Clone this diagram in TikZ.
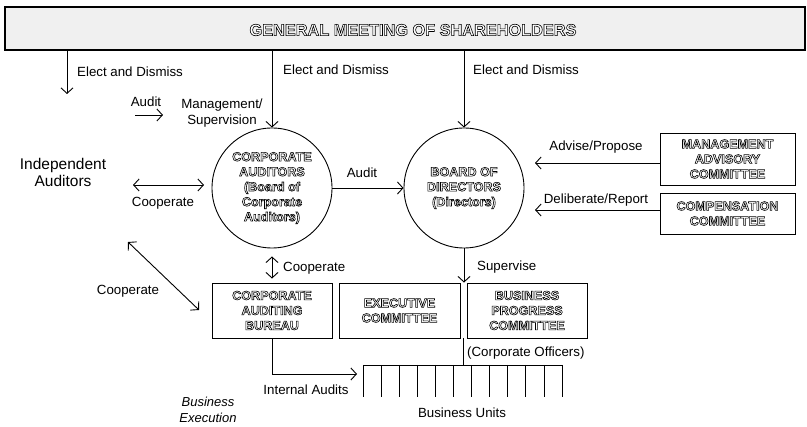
\documentclass[tikz,border=0pt]{standalone}
\usepackage{fontspec}
\setmainfont{Liberation Sans}
\usetikzlibrary{arrows.meta}
\tikzset{
  every picture/.style={x=1pt,y=-1pt},
  ln/.style={line width=0.9pt},
  arr/.style={ln,-{Straight Barb[length=5.5pt,width=12pt]}},
  darr/.style={ln,{Straight Barb[length=5.5pt,width=12pt]}-{Straight Barb[length=5.5pt,width=12pt]}},
  lbl/.style={font=\fontsize{13.3}{15}\selectfont, inner sep=0pt, align=center},
  holl/.style={font=\bfseries\fontsize{12.6}{15}\selectfont, align=center,
    execute at begin node={\color{white}\special{pdf:literal direct 2 Tr 0.6 w 0 0 0 RG}},
    execute at end node={\special{pdf:literal direct 0 Tr}}},
  cbox/.style={draw, ln, holl, inner sep=0pt},
  circ/.style={draw, ln, circle, holl, minimum size=120pt, inner sep=0pt},
}
\begin{document}
\begin{tikzpicture}
\useasboundingbox (0,0) rectangle (807,427);
% banner
\node[draw, line width=1.2pt, fill=black!6, minimum width=800pt, minimum height=43pt, inner sep=0pt] (gm) at (405,28.5) {};
\node[holl, font=\bfseries\fontsize{16.3}{18}\selectfont, inner sep=0pt] (gmt) at (413,30) {GENERAL MEETING OF SHAREHOLDERS};
% circles
\node[circ] (ca) at (272,188) {CORPORATE\\AUDITORS\\(Board of\\Corporate\\Auditors)};
\node[circ] (bod) at (464,188) {BOARD OF\\DIRECTORS\\(Directors)};
% right boxes
\node[cbox, minimum width=135pt, minimum height=52pt] (mac) at (727.5,159) {MANAGEMENT\\ADVISORY\\COMMITTEE};
\node[cbox, minimum width=135pt, minimum height=41pt] (cc) at (727.5,213.5) {COMPENSATION\\COMMITTEE};
% bottom boxes
\node[cbox, minimum width=120pt, minimum height=55pt] (bur) at (272,310.5) {CORPORATE\\AUDITING\\BUREAU};
\node[cbox, minimum width=121pt, minimum height=55pt] (exe) at (399.5,310.5) {EXECUTIVE\\COMMITTEE};
\node[cbox, minimum width=120pt, minimum height=55pt] (bpc) at (527,310.5) {BUSINESS\\PROGRESS\\COMMITTEE};
% free ends
\coordinate (t1) at (67,94);
\coordinate (au1) at (135,115);
\coordinate (au2) at (163,115);
\coordinate (co1) at (133,185);
\coordinate (co2) at (204,185);
\coordinate (ap) at (535,163);
\coordinate (dr) at (535,210);
\coordinate (dg1) at (128,242);
\coordinate (dg2) at (199,310);
\coordinate (iaend) at (357,374);
\coordinate (cotop) at (463,338);
\coordinate (combtop) at (463,365);
% connectors
\draw[arr] (gm.south -| t1) -- (t1);
\draw[arr] (gm.south -| ca.north) -- (ca.north);
\draw[arr] (gm.south -| bod.north) -- (bod.north);
\draw[arr] (au1) -- (au2);
\draw[darr] (co1) -- (co2);
\draw[arr] (ca.east) -- (bod.west);
\draw[arr] (mac.west |- ap) -- (ap);
\draw[arr] (cc.west |- dr) -- (dr);
\draw[darr, shorten <=8pt, shorten >=4pt] (ca.south) -- (bur.north);
\draw[arr] (bod.south) -- (bod.south |- bpc.north);
\draw[darr] (dg1) -- (dg2);
\draw[arr] (bur.south) |- (iaend);
\draw[ln] (cotop) -- (combtop);
% business units comb
\draw[ln] (363,365) -- (562,365);
\foreach \i in {0,...,11} \draw[ln] (363+\i*18.1,365) -- ++(0,32);
% labels
\node[lbl, anchor=west] (l1) at (77,72) {Elect and Dismiss};
\node[lbl, anchor=west] (l2) at (283,70) {Elect and Dismiss};
\node[lbl, anchor=west] (l3) at (473,70) {Elect and Dismiss};
\node[lbl] (l4) at (146,102) {Audit};
\node[lbl, font=\fontsize{13.3}{16}\selectfont] (l5) at (222,113) {Management/\\Supervision};
\node[lbl, font=\fontsize{15.5}{17}\selectfont] (ia) at (63,172) {Independent\\Auditors};
\node[lbl] (l6) at (163,203) {Cooperate};
\node[lbl] (l7) at (362,173) {Audit};
\node[lbl] (l8) at (596,147) {Advise/Propose};
\node[lbl] (l9) at (596,200) {Deliberate/Report};
\node[lbl, anchor=west] (l10) at (283,268) {Cooperate};
\node[lbl, anchor=west] (l11) at (477,267) {Supervise};
\node[lbl] (l12) at (128,291) {Cooperate};
\node[lbl, anchor=west] (l13) at (467,353) {(Corporate Officers)};
\node[lbl] (l14) at (306,390) {Internal Audits};
\node[lbl] (l15) at (462,413) {Business Units};
\node[lbl, font=\itshape\fontsize{13}{15.5}\selectfont] (l16) at (208,410) {Business\\Execution};
\end{tikzpicture}
\end{document}
